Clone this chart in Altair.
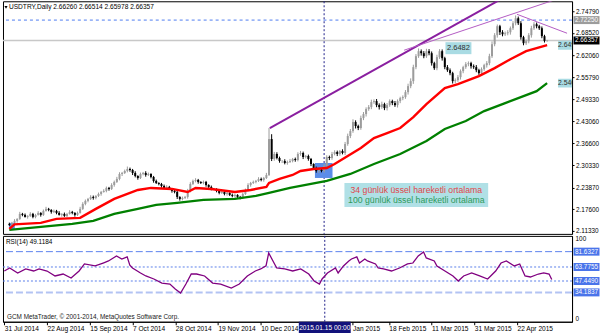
import altair as alt
import pandas as pd

FONT = "Liberation Sans"

# ---------------- data ----------------
header_text = "USDTRY,Daily  2.66260 2.66514 2.65978 2.66357"
first_open = 2.1330
closes = [
    2.1306, 2.1364, 2.1422, 2.1479, 2.1623, 2.1595, 2.1537, 2.1566, 2.1623, 2.1537,
    2.1595, 2.1652, 2.1595, 2.1710, 2.1768, 2.1739, 2.1681, 2.1710, 2.1652, 2.1595,
    2.1623, 2.1566, 2.1623, 2.1681, 2.1652, 2.1595, 2.1652, 2.1768, 2.1912, 2.1999,
    2.2056, 2.2114, 2.2085, 2.2143, 2.2200, 2.2258, 2.2287, 2.2374, 2.2345, 2.2460,
    2.2547, 2.2634, 2.2778, 2.2807, 2.2864, 2.2922, 2.2893, 2.2807, 2.2720, 2.2662,
    2.2778, 2.2807, 2.2749, 2.2778, 2.2691, 2.2576, 2.2518, 2.2489, 2.2431, 2.2374,
    2.2403, 2.2345, 2.2287, 2.2258, 2.2114, 2.2056, 2.2085, 2.2114, 2.2287, 2.2489,
    2.2576, 2.2605, 2.2547, 2.2518, 2.2547, 2.2460, 2.2403, 2.2345, 2.2345, 2.2287,
    2.2229, 2.2258, 2.2200, 2.2229, 2.2172, 2.2143, 2.2172, 2.2114, 2.2085, 2.2200,
    2.2316, 2.2460, 2.2518, 2.2547, 2.2576, 2.2634, 2.2605, 2.2662, 2.2749, 2.3787,
    2.3211, 2.3355, 2.3239, 2.3153, 2.3153, 2.3095, 2.3124, 2.3153, 2.3211, 2.3182,
    2.3355, 2.3384, 2.3268, 2.3297, 2.3211, 2.3066, 2.2951, 2.2864, 2.2893, 2.2864,
    2.3008, 2.3268, 2.3239, 2.3355, 2.3413, 2.3355, 2.3441, 2.3384, 2.3643, 2.3874,
    2.4018, 2.4278, 2.4162, 2.4105, 2.4393, 2.4508, 2.4653, 2.4710, 2.4855, 2.4884,
    2.4768, 2.4710, 2.4797, 2.4682, 2.4768, 2.4884, 2.4826, 2.4768, 2.4884, 2.4970,
    2.4999, 2.5143, 2.5316, 2.5461, 2.5865, 2.6182, 2.6326, 2.6268, 2.6182, 2.6326,
    2.6268, 2.5980, 2.5836, 2.6153, 2.6326, 2.6124, 2.5865, 2.5778, 2.5691, 2.5461,
    2.5490, 2.5576, 2.5749, 2.5865, 2.5951, 2.5980, 2.5893, 2.5865, 2.5778, 2.5691,
    2.5807, 2.5922, 2.5980, 2.6182, 2.6528, 2.6788, 2.7047, 2.6874, 2.6816, 2.6845,
    2.6874, 2.6990, 2.7134, 2.7278, 2.7134, 2.6730, 2.6557, 2.6615, 2.6788, 2.6990,
    2.7105, 2.7047, 2.6990, 2.6760, 2.6626, 2.66357,
]
up_wick_milli = [
    4, 3, 5, 2, 6, 3, 4, 2, 5, 3,
    3, 5, 2, 4, 6, 3, 2, 4, 3, 5,
    2, 4, 3, 5, 3, 2, 4, 6, 5, 4,
    3, 5, 4, 2, 4, 3, 5, 4, 3, 5,
    4, 6, 5, 3, 4, 7, 4, 3, 5, 2,
    4, 3, 5, 4, 2, 3, 4, 2, 3, 4,
    5, 3, 2, 4, 3, 2, 4, 3, 6, 5,
    4, 5, 3, 2, 4, 3, 2, 4, 3, 2,
    3, 4, 2, 3, 2, 4, 3, 2, 3, 4,
    4, 5, 3, 4, 3, 5, 4, 3, 6, 32,
    14, 6, 5, 4, 3, 5, 4, 6, 3, 4,
    5, 6, 4, 3, 4, 3, 2, 4, 3, 4,
    6, 5, 4, 6, 5, 4, 3, 5, 6, 7,
    6, 8, 5, 4, 7, 6, 5, 6, 7, 5,
    6, 5, 7, 4, 6, 5, 4, 6, 5, 4,
    5, 6, 7, 8, 7, 6, 8, 5, 6, 7,
    6, 5, 4, 7, 6, 5, 4, 6, 5, 4,
    5, 6, 5, 4, 6, 5, 4, 5, 6, 4,
    5, 4, 6, 7, 8, 6, 5, 4, 6, 5,
    6, 5, 6, 8, 5, 6, 4, 5, 6, 7,
    6, 5, 4, 5, 4, 1.6,
]
lo_wick_milli = [
    3, 4, 2, 5, 3, 4, 2, 5, 3, 4,
    4, 2, 5, 3, 2, 4, 5, 3, 4, 2,
    5, 3, 4, 2, 4, 5, 3, 2, 3, 4,
    4, 3, 5, 4, 3, 5, 2, 4, 5, 3,
    5, 3, 4, 6, 3, 4, 5, 6, 4, 5,
    3, 4, 5, 3, 4, 5, 3, 4, 5, 3,
    4, 3, 5, 4, 6, 5, 4, 3, 5, 4,
    3, 4, 5, 3, 4, 5, 3, 4, 3, 4,
    4, 3, 4, 5, 3, 4, 5, 3, 4, 3,
    3, 4, 5, 3, 4, 3, 4, 5, 3, 3,
    6, 5, 4, 5, 6, 4, 5, 3, 4, 5,
    4, 5, 6, 4, 5, 6, 4, 5, 6, 4,
    5, 4, 6, 5, 4, 6, 5, 4, 6, 5,
    6, 5, 7, 6, 5, 6, 7, 5, 6, 5,
    6, 7, 5, 6, 7, 5, 6, 5, 7, 6,
    6, 5, 7, 6, 8, 6, 5, 7, 6, 5,
    6, 7, 5, 6, 5, 7, 6, 5, 6, 7,
    6, 5, 7, 6, 5, 6, 7, 5, 6, 5,
    6, 5, 7, 6, 5, 6, 7, 8, 6, 5,
    6, 7, 5, 6, 5, 7, 6, 5, 6, 7,
    5, 6, 5, 6, 5, 2.8,
]

ema34_idx = [0, 2, 12, 18, 27, 33, 40, 49, 54, 62, 68, 71, 77, 86, 92, 98, 99, 103, 108,
             111, 116, 121, 124, 129, 134, 139, 144, 149, 154, 159, 166, 171, 179, 185,
             191, 197, 205]
ema34_val = [2.1191, 2.1320, 2.1364, 2.1479, 2.1508, 2.1768, 2.2056, 2.2316, 2.2374, 2.2345,
             2.2258, 2.2374, 2.2345, 2.2258, 2.2316, 2.2403, 2.2518, 2.2634, 2.2749, 2.2864,
             2.2922, 2.2951, 2.3066, 2.3297, 2.3528, 2.3817, 2.3960, 2.4105, 2.4422, 2.4797,
             2.5259, 2.5374, 2.5605, 2.5836, 2.6095, 2.6326, 2.6499]
ema100_idx = [0, 12, 24, 32, 40, 49, 56, 64, 74, 86, 94, 99, 107, 111, 121, 130, 139, 149,
              159, 166, 174, 181, 189, 196, 201, 205]
ema100_val = [2.1162, 2.1248, 2.1335, 2.1422, 2.1623, 2.1768, 2.1883, 2.1941, 2.2027, 2.2056,
              2.2143, 2.2229, 2.2374, 2.2431, 2.2576, 2.2778, 2.3066, 2.3355, 2.3730, 2.4076,
              2.4307, 2.4595, 2.4826, 2.5028, 2.5172, 2.5403]

rsi_idx = [0, 2, 5, 8, 11, 13, 16, 19, 22, 25, 28, 30, 34, 37, 39, 42, 44, 46, 47, 48,
           51, 53, 56, 59, 62, 64, 66, 68, 70, 72, 75, 78, 81, 85, 88, 91, 94, 96, 98, 99,
           101, 102, 105, 108, 111, 114, 116, 118, 119, 121, 124, 125, 127, 129, 130, 132,
           133, 135, 136, 139, 140, 142, 145, 148, 151, 153, 155, 157, 158, 161, 162, 165,
           168, 170, 172, 175, 178, 181, 184, 186, 188, 191, 193, 195, 197, 200, 202, 204, 205]
rsi_val = [59.1, 62.6, 56.8, 61.5, 59.1, 61.5, 59.1, 53.3, 55.6, 50.9, 59.1, 67.3, 65.0, 68.4,
           70.8, 76.6, 73.0, 75.5, 66.0, 62.6, 56.8, 53.3, 49.8, 45.1, 43.9, 38.1, 33.4, 43.9,
           55.6, 55.6, 53.3, 45.1, 43.9, 39.3, 43.9, 53.3, 59.1, 61.5, 65.0, 80.1, 68.4, 62.6,
           61.5, 59.1, 61.5, 55.6, 47.45, 43.9, 49.8, 56.8, 62.6, 56.8, 64.95, 70.8, 73.1, 75.5,
           68.4, 73.1, 70.8, 67.3, 62.6, 61.5, 59.1, 62.6, 67.3, 68.4, 76.6, 81.3, 74.3, 70.8,
           64.95, 59.1, 53.3, 47.45, 53.3, 56.8, 53.3, 49.8, 59.1, 68.4, 70.8, 64.95, 67.3, 53.3,
           52.1, 55.6, 56.8, 55.6, 49.1184]
rsi_label = "RSI(14) 49.1184"
rsi_levels = [81.6327, 63.7755, 47.4490, 34.1837]

price_ticks = [2.74790, 2.68520, 2.62060, 2.55790, 2.49330, 2.43060, 2.36600, 2.30330,
               2.23870, 2.17600, 2.11330]
# date labels visible on the time axis (the one under the crosshair box shows only "Jan 2015")
date_tick_idx = [0, 16, 32, 48, 64, 80, 96, 130.4, 144, 160, 176, 192]
date_tick_lab = ["31 Jul 2014", "22 Aug 2014", "15 Sep 2014", "7 Oct 2014", "28 Oct 2014",
                 "19 Nov 2014", "10 Dec 2014", "Jan 2015", "18 Feb 2015",
                 "11 Mar 2015", "31 Mar 2015", "22 Apr 2015"]

hline_price = 2.72250
bid_price = 2.66357
level_text = "2.6482"
level_idx, level_price = 171.2, 2.6413
cross_idx = 120
cross_text = "2015.01.15 00:00"
legend_lines = ["34 günlük üssel hareketli ortalama", "100 günlük üssel hareketli ortalama"]
copyright_text = "GCM MetaTrader, © 2001-2014, MetaQuotes Software Corp."

thick_tl_idx = [99.3, 190.0]
thick_tl_val = [2.4105, 2.7939]
thin_tl_idx = [150.5, 210.0]
thin_tl_val = [2.6355, 2.7863]
down_tl_idx = [193.5, 212.6]
down_tl_val = [2.7393, 2.6845]
rect_i1 = [116.5, -0.1]
rect_i2 = [123.2, 2.1]
rect_p1 = [2.2662, 2.1191]
rect_p2 = [2.3095, 2.1364]

# ---------------- styles ----------------
W = 570
H_MAIN = 233
H_RSI = 86
UP, DOWN = "#9c9c9c", "#000000"


def box_shape(w, h):
    k = h / w
    return f"M-1,-{k:.4f}L1,-{k:.4f}L1,{k:.4f}L-1,{k:.4f}Z"


xs = alt.Scale(domain=[-0.5, 212.6], nice=False, zero=False)
ys = alt.Scale(domain=[2.1046, 2.77685], nice=False, zero=False)
rs = alt.Scale(domain=[0, 100], nice=False, zero=False)

y_axis = alt.Axis(orient="right", values=price_ticks, format=".5f", title=None, grid=False,
                  labelFont=FONT, labelFontSize=6.4, labelColor="#000", tickSize=2,
                  tickColor="#000", domainColor="#000", labelPadding=1.5, labelOverlap=False)
X = alt.X("i:Q", scale=xs, axis=None)
Y = alt.Y("p:Q", scale=ys, axis=y_axis)

# candles
opens = [first_open] + closes[:-1]
rows = []
for i, (o, c, uw, lw) in enumerate(zip(opens, closes, up_wick_milli, lo_wick_milli)):
    rows.append(dict(i=i, o=o, c=c, p=min(o, c) - lw / 1000.0, p2=max(o, c) + uw / 1000.0,
                     dir="up" if c >= o else "down"))
candles = pd.DataFrame(rows)
bodies = pd.DataFrame({"i": candles.i, "p": candles.o, "p2": candles.c, "dir": candles.dir})
dircol = alt.Color("dir:N", scale=alt.Scale(domain=["up", "down"], range=[UP, DOWN]), legend=None)

one = pd.DataFrame({"a": [0]})

bid_rule = alt.Chart(pd.DataFrame({"p": [bid_price]})).mark_rule(
    color="#c8c8c8", strokeWidth=1.5).encode(y=Y)
blue_rule = alt.Chart(pd.DataFrame({"p": [hline_price]})).mark_rule(
    color="#4f7cf0", strokeDash=[3, 3], strokeWidth=1).encode(y=Y)
cross_main = alt.Chart(pd.DataFrame({"i": [cross_idx]})).mark_rule(
    color="#20208a", strokeDash=[2, 2], strokeWidth=1).encode(x=X)
rects = alt.Chart(pd.DataFrame({"i": rect_i1, "i2": rect_i2, "p": rect_p1, "p2": rect_p2})).mark_rect(
    color="#5b8ce8").encode(x=X, x2="i2:Q", y=Y, y2="p2:Q")
wicks = alt.Chart(candles).mark_rule(strokeWidth=1).encode(x=X, y=Y, y2="p2:Q", color=dircol)
body = alt.Chart(bodies).mark_bar(size=2).encode(x=X, y=Y, y2="p2:Q", color=dircol)
ema100 = alt.Chart(pd.DataFrame({"i": ema100_idx, "p": ema100_val})).mark_line(
    color="#008000", strokeWidth=2.3).encode(x=X, y=Y)
ema34 = alt.Chart(pd.DataFrame({"i": ema34_idx, "p": ema34_val})).mark_line(
    color="#ff0000", strokeWidth=2.4).encode(x=X, y=Y)
thick_tl = alt.Chart(pd.DataFrame({"i": thick_tl_idx, "p": thick_tl_val})).mark_line(
    color="#8a1fa0", strokeWidth=2, clip=True).encode(x=X, y=Y)
thin_df = pd.DataFrame({"i": thin_tl_idx + down_tl_idx, "p": thin_tl_val + down_tl_val,
                        "g": ["a", "a", "b", "b"]})
thin_tl = alt.Chart(thin_df).mark_line(color="#b45cc4", strokeWidth=1, clip=True).encode(
    x=X, y=Y, detail="g:N")

lvl_df = pd.DataFrame({"i": [level_idx], "p": [level_price], "t": [level_text]})
lvl_box = alt.Chart(lvl_df).mark_point(shape=box_shape(26, 12), size=26 * 26, filled=True,
                                        opacity=1, color="#a9dbe3", strokeWidth=0).encode(x=X, y=Y)
lvl_txt = alt.Chart(lvl_df).mark_text(font=FONT, fontSize=7.5, color="#303030").encode(
    x=X, y=Y, text="t:N")

tag_df = pd.DataFrame({"p": [ema34_val[-1], ema100_val[-1]],
                       "t": [f"{ema34_val[-1]:.4f}", f"{ema100_val[-1]:.4f}"]})
tag_box = alt.Chart(tag_df).mark_point(shape=box_shape(30, 9), size=900, filled=True, opacity=1,
                                        color="#a9dbe3", strokeWidth=0, clip=True).encode(
    x=alt.value(W - 14 + 15), y=Y)
tag_txt = alt.Chart(tag_df).mark_text(font=FONT, fontSize=6.8, color="#303030", align="left",
                                      clip=True).encode(x=alt.value(W - 14), y=Y, text="t:N")

rb_df = pd.DataFrame({"p": [hline_price, bid_price], "t": [f"{hline_price:.5f}", f"{bid_price:.5f}"],
                      "k": ["line", "bid"]})
rb_box = alt.Chart(rb_df).mark_point(shape=box_shape(26, 8), size=676, filled=True, opacity=1,
                                      strokeWidth=0).encode(
    x=alt.value(W + 14.5), y=Y,
    color=alt.Color("k:N", scale=alt.Scale(domain=["line", "bid"], range=["#4a7fe8", "#000000"]),
                    legend=None))
rb_txt = alt.Chart(rb_df).mark_text(font=FONT, fontSize=6.4, color="#ffffff").encode(
    x=alt.value(W + 14.5), y=Y, text="t:N")

leg_box = alt.Chart(one).mark_rect(color="#b0e0e6").encode(
    x=alt.value(342), x2=alt.value(486), y=alt.value(182), y2=alt.value(206))
leg1 = alt.Chart(pd.DataFrame({"t": [legend_lines[0]]})).mark_text(
    font=FONT, fontSize=8.7, color="#e0474c").encode(x=alt.value(414), y=alt.value(189), text="t:N")
leg2 = alt.Chart(pd.DataFrame({"t": [legend_lines[1]]})).mark_text(
    font=FONT, fontSize=8.7, color="#2e9a5a").encode(x=alt.value(414), y=alt.value(199), text="t:N")

tri = alt.Chart(one).mark_point(shape="triangle-down", size=10, filled=True, opacity=1,
                                color="#000").encode(x=alt.value(3), y=alt.value(6))
head = alt.Chart(pd.DataFrame({"t": [header_text]})).mark_text(
    font=FONT, fontSize=6.6, color="#000", align="left").encode(
    x=alt.value(6), y=alt.value(6), text="t:N")

main = alt.layer(bid_rule, blue_rule, cross_main, rects, wicks, body, ema100, ema34,
                 thick_tl, thin_tl, lvl_box, lvl_txt, tag_box, tag_txt, rb_box, rb_txt,
                 leg_box, leg1, leg2, tri, head).properties(width=W, height=H_MAIN)

# ---------------- RSI panel ----------------
idx_js = "[" + ",".join(str(v) for v in date_tick_idx) + "]"
lab_js = "[" + ",".join("'" + s + "'" for s in date_tick_lab) + "]"
x_axis = alt.Axis(values=date_tick_idx, labelExpr=f"{lab_js}[indexof({idx_js}, datum.value)]",
                  labelAlign="left", labelFlush=False, labelOverlap=False, labelFont=FONT,
                  labelFontSize=6.6, labelColor="#000", tickSize=3, tickColor="#000",
                  domainColor="#000", labelPadding=1, grid=False, title=None)
r_axis = alt.Axis(orient="right", values=[0, 100], labelFlush=True, ticks=False, grid=False,
                  labelFont=FONT, labelFontSize=6.4, labelColor="#000", domainColor="#000",
                  labelPadding=3, title=None)
XR = alt.X("i:Q", scale=xs, axis=x_axis)
YR = alt.Y("r:Q", scale=rs, axis=r_axis)

lev_styles = [("#5b82ee", [7, 3], 1.0), ("#5b7fea", [2, 2], 1.0),
              ("#5b7fea", [2, 2], 1.0), ("#b3c3f3", [7, 3], 2.0)]
lev_rules = [alt.Chart(pd.DataFrame({"r": [v]})).mark_rule(color=c, strokeDash=d, strokeWidth=w).encode(y=YR)
             for v, (c, d, w) in zip(rsi_levels, lev_styles)]
cross_rsi = alt.Chart(pd.DataFrame({"i": [cross_idx]})).mark_rule(
    color="#20208a", strokeDash=[2, 2], strokeWidth=1).encode(x=XR)
rsi_line = alt.Chart(pd.DataFrame({"i": rsi_idx, "r": rsi_val})).mark_line(
    color="#800080", strokeWidth=1.3).encode(x=XR, y=YR)
rsi_head = alt.Chart(pd.DataFrame({"t": [rsi_label]})).mark_text(
    font=FONT, fontSize=6.4, color="#000", align="left").encode(
    x=alt.value(3), y=alt.value(6), text="t:N")
copy_txt = alt.Chart(pd.DataFrame({"t": [copyright_text]})).mark_text(
    font=FONT, fontSize=6.4, color="#202020", align="left").encode(
    x=alt.value(4), y=alt.value(81), text="t:N")
lv_df = pd.DataFrame({"r": rsi_levels, "t": [f"{v:.4f}" for v in rsi_levels]})
lv_box = alt.Chart(lv_df).mark_point(shape=box_shape(26, 8), size=676, filled=True, opacity=1,
                                      color="#4a74ea", strokeWidth=0).encode(x=alt.value(W + 14.5), y=YR)
lv_txt = alt.Chart(lv_df).mark_text(font=FONT, fontSize=6.4, color="#ffffff").encode(
    x=alt.value(W + 14.5), y=YR, text="t:N")
cross_df = pd.DataFrame({"i": [cross_idx], "t": [cross_text]})
cross_box = alt.Chart(cross_df).mark_point(shape=box_shape(52, 12), size=52 * 52, filled=True,
                                            opacity=1, color="#12127a", strokeWidth=0).encode(
    x=XR, y=alt.value(H_RSI + 6))
cross_txt = alt.Chart(cross_df).mark_text(font=FONT, fontSize=6.6, color="#ffffff").encode(
    x=XR, y=alt.value(H_RSI + 6), text="t:N")

rsi = alt.layer(*lev_rules, cross_rsi, rsi_line, rsi_head, copy_txt, lv_box, lv_txt,
                cross_box, cross_txt).properties(width=W, height=H_RSI)

chart = alt.vconcat(main, rsi, spacing=2, bounds="flush").properties(
    padding={"left": 1, "top": 0, "right": 0, "bottom": 0}, background="#ffffff"
).configure_view(stroke="#000000", strokeWidth=1)

chart.save("out.html", embed_options={"renderer": "svg", "actions": False})
